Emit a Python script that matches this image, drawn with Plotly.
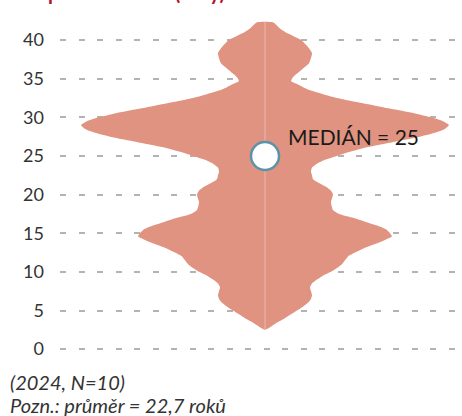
import plotly.graph_objects as go

# Years (y) and read-off violin half-widths (density, arbitrary units)
years = [2.5, 3, 3.5, 4, 4.5, 5, 5.5, 6, 6.5, 7, 7.5, 8, 8.5, 9, 9.5, 10, 10.5, 11, 11.5, 12,
         12.5, 13, 13.5, 14, 14.6, 15, 15.5, 16, 16.5, 17, 17.5, 18, 19, 20, 20.5, 21, 21.5,
         22, 22.5, 23, 23.5, 24, 24.5, 25, 25.5, 26, 26.5, 27, 27.5, 28, 28.5, 29, 29.5, 30,
         30.5, 31, 31.5, 32, 32.5, 33, 33.5, 33.9, 34.3, 34.7, 35.2, 36.1, 37, 38.3, 39.1, 40,
         40.9, 41.5, 42.3]
density = [0, 7, 13, 20, 26, 32, 38, 43, 46, 47, 46, 45, 47, 52, 58, 66, 72, 77, 80, 83,
           90, 98, 108, 118, 127, 125, 121, 112, 100, 88, 74, 68, 66, 68, 66, 61, 54,
           48, 47, 46, 47, 52, 60, 72, 84, 98, 117, 136, 155, 170, 180, 184, 178, 166,
           150, 130, 110, 90, 72, 58, 45, 38, 32, 26, 28, 36, 44, 47, 43, 36,
           22, 15, 8]

median = 25
y_ticks = [0, 5, 10, 15, 20, 25, 30, 35, 40]
title_text = "Léta praxe v oboru (roky)"
note_lines = ["(2024, N=10)", "Pozn.: průměr = 22,7 roků"]

violin_color = "rgb(224,147,128)"

# closed outline: right side upward, left side downward
xs = list(density) + [-d for d in reversed(density)]
ys = list(years) + list(reversed(years))

fig = go.Figure()
fig.add_trace(go.Scatter(
    x=xs, y=ys, fill="toself", mode="lines",
    line=dict(color=violin_color, width=0, shape="spline", smoothing=0.5),
    fillcolor=violin_color, hoverinfo="skip", showlegend=False))

# faint centre line
fig.add_trace(go.Scatter(
    x=[0, 0], y=[min(years), max(years)], mode="lines",
    line=dict(color="rgba(255,255,255,0.3)", width=1.2),
    hoverinfo="skip", showlegend=False))

# median marker
fig.add_trace(go.Scatter(
    x=[0], y=[median], mode="markers",
    marker=dict(size=28, color="white", line=dict(color="#5b93a8", width=2.5)),
    showlegend=False))

fig.add_annotation(x=0, y=median, xref="x", yref="y", text=f"MEDIÁN = {median}",
                   showarrow=False, xanchor="left", yanchor="middle", xshift=21, yshift=19,
                   font=dict(family="Lato", size=21, color="#1a1a1a"))

plot_left, plot_top, plot_w, plot_h = 60, 13, 395, 340

def px_to_paper_x(px):
    return (px - plot_left) / plot_w

def px_to_paper_y(py):
    return 1 - (py - plot_top) / plot_h

# partially visible (cropped) title
fig.add_annotation(x=px_to_paper_x(3), y=px_to_paper_y(5.5), xref="paper", yref="paper",
                   text=f"<b>{title_text}</b>", showarrow=False,
                   xanchor="left", yanchor="bottom",
                   font=dict(family="Lato", size=20, color="#b5112f"))

for line, py in zip(note_lines, [382, 405]):
    fig.add_annotation(x=px_to_paper_x(8), y=px_to_paper_y(py), xref="paper", yref="paper",
                       text=f"<i>{line}</i>", showarrow=False, xanchor="left", yanchor="middle",
                       font=dict(family="Lato", size=20, color="#333333"))

fig.update_layout(
    width=462, height=416,
    margin=dict(l=plot_left, r=462 - plot_left - plot_w, t=plot_top, b=416 - plot_top - plot_h),
    paper_bgcolor="white", plot_bgcolor="white",
    showlegend=False,
    xaxis=dict(range=[-205, 190], visible=False, fixedrange=True),
    yaxis=dict(range=[-0.5, 43.5], tickvals=y_ticks, showgrid=True,
               gridcolor="#b3b3b3", gridwidth=2, griddash="6px,12.5px",
               zeroline=False, showline=False, ticks="", automargin=False,
               ticklabelstandoff=15, fixedrange=True,
               tickfont=dict(family="Lato", size=18, color="#333333")),
)

fig.write_html("out.html", config={"displayModeBar": False},
               post_script="document.body.style.margin='0px';")
